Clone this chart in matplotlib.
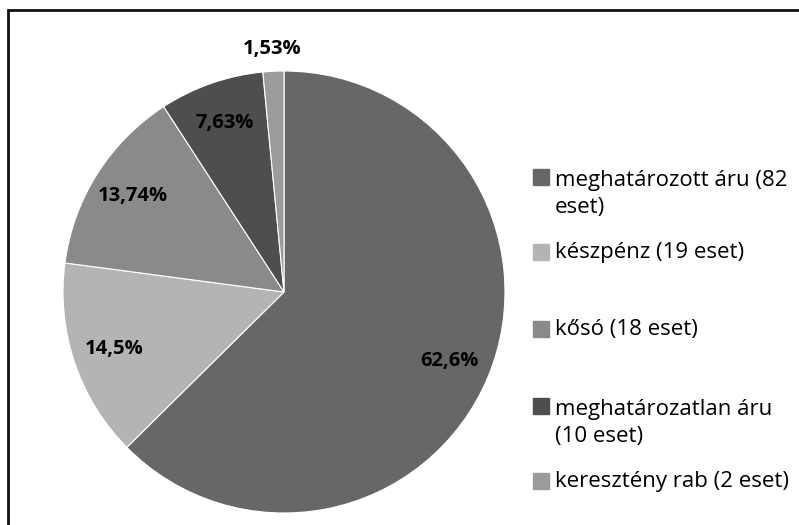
import matplotlib.pyplot as plt
from matplotlib.patches import Rectangle
import numpy as np

# data
categories = ["meghatározott áru (82\neset)", "készpénz (19 eset)", "kősó (18 eset)",
              "meghatározatlan áru\n(10 eset)", "keresztény rab (2 eset)"]
counts = [82, 19, 18, 10, 2]
pct_labels = ["62,6%", "14,5%", "13,74%", "7,63%", "1,53%"]
colors = ['#676767', '#b4b4b4', '#8a8a8a', '#4e4e4e', '#9b9b9b']

W, H = 799, 525
fig = plt.figure(figsize=(W / 100, H / 100), dpi=100)
plt.rcParams['font.family'] = ['Open Sans', 'DejaVu Sans']

# outer frame (only top and left edges fall inside the picture)
fig.patches.append(Rectangle((8 / W, -0.1), 1.2, 1.1 - 10 / H, transform=fig.transFigure,
                             fill=False, edgecolor='#111111', lw=2))

# pie axes: center (284, 292), radius 221 px
cx, cy, r = 284, 292, 221
ax = fig.add_axes([(cx - r) / W, (H - cy - r) / H, 2 * r / W, 2 * r / H])
wedges, _ = ax.pie(counts, colors=colors, startangle=90, counterclock=False,
                   wedgeprops=dict(edgecolor='white', linewidth=0.8))
ax.set_xlim(-1, 1)
ax.set_ylim(-1, 1)
ax.set_aspect('equal')
ax.axis('off')

# percentage labels
for w, lab in zip(wedges, pct_labels):
    ang = np.deg2rad((w.theta1 + w.theta2) / 2)
    dist = 1.10 if (w.theta2 - w.theta1) < 10 else 0.81
    ax.text(dist * np.cos(ang), dist * np.sin(ang), lab, ha='center', va='center',
            fontsize=14.5, fontweight='bold', color='black')

# legend, placed by hand to follow the original spacing
baselines = [183, 258, 335, 412, 487]
line_gap = 30
for yb, lab, c in zip(baselines, categories, colors):
    fig.patches.append(Rectangle((533 / W, 1 - (yb + 2) / H), 16 / W, 16 / H,
                                 transform=fig.transFigure, color=c))
    n_extra = lab.count("\n")
    fig.text(555 / W, 1 - (yb + n_extra * line_gap) / H, lab, ha='left', va='baseline',
             fontsize=16, linespacing=1.4, color='black')

fig.savefig("out.png", dpi=100)
